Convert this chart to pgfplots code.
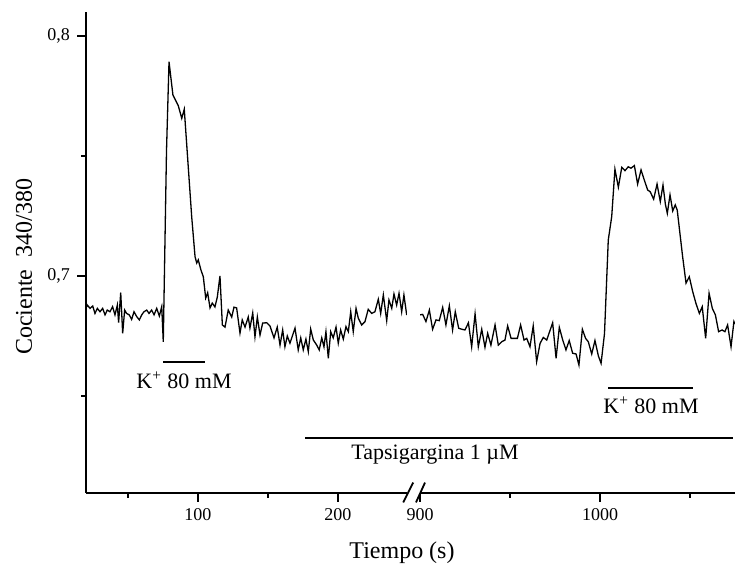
\documentclass[border=0pt]{standalone}
\usepackage{pgfplots}
\pgfplotsset{compat=1.18}
\usepackage{fontspec}
\setmainfont{Liberation Serif}
\pgfplotstableread{
t v
20.0 0.6865
20.9 0.6879
22.9 0.6865
24.8 0.6875
26.4 0.6844
28.1 0.6865
30.0 0.6851
31.9 0.6865
33.6 0.6838
35.2 0.6858
37.1 0.6851
39.0 0.6872
40.7 0.6838
42.4 0.6879
43.3 0.6806
44.8 0.6931
46.2 0.6761
47.6 0.6858
49.0 0.6844
50.9 0.6838
52.6 0.6819
54.3 0.6851
56.2 0.6831
58.1 0.6817
59.8 0.6838
61.4 0.6851
63.4 0.6858
65.0 0.6844
66.9 0.6858
68.6 0.6838
70.5 0.6865
72.4 0.6833
74.1 0.6872
75.2 0.6726
77.5 0.7520
79.3 0.7893
82.1 0.7754
85.9 0.7710
88.4 0.7657
90.2 0.7695
95.5 0.7247
97.9 0.7080
99.1 0.7054
100.2 0.7067
102.1 0.7025
103.8 0.6997
105.5 0.6908
106.9 0.6930
108.6 0.6867
110.2 0.6887
112.1 0.6871
113.8 0.6912
115.7 0.7000
117.4 0.6796
119.3 0.6787
121.6 0.6858
124.1 0.6829
125.7 0.6870
127.6 0.6867
130.0 0.6762
131.6 0.6817
133.6 0.6787
135.9 0.6829
137.1 0.6783
139.1 0.6846
140.7 0.6746
142.4 0.6829
144.3 0.6754
146.2 0.6804
149.1 0.6805
151.4 0.6792
154.3 0.6742
156.6 0.6787
158.6 0.6712
160.5 0.6775
162.1 0.6705
163.8 0.6750
165.7 0.6720
169.3 0.6783
171.6 0.6692
173.4 0.6742
175.2 0.6692
177.1 0.6737
178.8 0.6685
180.5 0.6779
182.4 0.6733
184.8 0.6712
186.6 0.6692
188.4 0.6742
190.0 0.6705
191.4 0.6768
193.1 0.6657
194.8 0.6768
196.6 0.6742
198.6 0.6787
200.2 0.6720
201.9 0.6775
203.8 0.6737
205.7 0.6789
207.4 0.6768
209.1 0.6851
210.9 0.6768
212.9 0.6865
214.5 0.6824
216.9 0.6796
219.3 0.6810
221.6 0.6861
224.1 0.6844
226.4 0.6851
228.8 0.6903
230.5 0.6844
232.4 0.6921
234.8 0.6814
236.4 0.6900
238.4 0.6865
240.0 0.6925
241.9 0.6879
243.6 0.6928
245.5 0.6851
247.1 0.6921
249.1 0.6837
}\lefttrace
\pgfplotstableread{
t v
900.0 0.6838
901.5 0.6840
903.3 0.6810
905.2 0.6858
907.0 0.6778
908.9 0.6817
910.7 0.6814
912.6 0.6869
914.4 0.6796
916.3 0.6876
918.1 0.6775
919.6 0.6851
921.5 0.6782
923.3 0.6778
925.0 0.6775
926.9 0.6805
928.7 0.6705
930.6 0.6842
932.4 0.6705
934.3 0.6778
936.1 0.6703
937.6 0.6761
939.4 0.6712
941.7 0.6796
943.5 0.6712
945.4 0.6726
947.2 0.6733
948.7 0.6792
950.6 0.6740
952.4 0.6740
954.1 0.6740
955.9 0.6796
957.8 0.6733
959.3 0.6740
961.1 0.6705
962.9 0.6792
964.8 0.6643
966.7 0.6719
968.5 0.6744
970.4 0.6733
973.7 0.6805
975.6 0.6657
977.4 0.6786
979.3 0.6733
981.1 0.6692
982.9 0.6731
984.8 0.6678
986.7 0.6675
988.3 0.6629
990.2 0.6778
992.0 0.6740
993.5 0.6726
995.4 0.6675
997.2 0.6731
999.1 0.6667
1000.6 0.6636
1002.5 0.6760
1004.6 0.7150
1006.5 0.7247
1008.3 0.7445
1010.2 0.7370
1012.1 0.7453
1013.9 0.7439
1015.7 0.7455
1017.2 0.7449
1019.1 0.7460
1020.9 0.7383
1022.8 0.7442
1024.6 0.7400
1026.5 0.7358
1027.9 0.7351
1029.8 0.7320
1031.7 0.7383
1033.5 0.7310
1035.0 0.7379
1036.3 0.7300
1037.4 0.7261
1038.9 0.7338
1040.4 0.7271
1041.8 0.7296
1042.9 0.7275
1044.4 0.7178
1045.9 0.7081
1047.8 0.6970
1049.6 0.6997
1051.5 0.6935
1053.3 0.6886
1055.2 0.6844
1056.8 0.6872
1058.7 0.6740
1060.6 0.6928
1062.4 0.6865
1064.1 0.6838
1065.9 0.6768
1067.8 0.6775
1069.4 0.6768
1070.9 0.6796
1072.8 0.6705
1074.4 0.6810
1075.0 0.6800
}\righttrace
\begin{document}
\begin{tikzpicture}
\useasboundingbox (0pt,0pt) rectangle (367.5pt,283.5pt);
\pgfplotsset{mystyle/.style={
  scale only axis, height=240.35pt,
  ymin=0.6097, ymax=0.81,
  axis x line*=bottom,
  x axis line style={-, line width=1pt},
  tick align=outside,
  major tick length=4.5pt, minor tick length=2.5pt,
  tick style={black, line width=0.8pt},
  tick label style={font=\fontsize{9}{10}\selectfont},
}}
\begin{axis}[mystyle,
  at={(43pt,37.15pt)}, anchor=south west,
  width=160.5pt, xmin=20, xmax=249.3,
  axis y line*=left,
  y axis line style={-, line width=1pt},
  ytick={0.7,0.8}, yticklabels={{0,7},{0,8}},
  minor ytick={0.65,0.75},
  xtick={100,200}, xticklabels={100,200},
  minor xtick={50,150},
]
\addplot[black, line width=0.65pt, mark=none] table[x=t,y=v] {\lefttrace};
\end{axis}
\begin{axis}[mystyle,
  at={(210pt,37.15pt)}, anchor=south west,
  width=157.5pt, xmin=900, xmax=1075,
  axis y line=none,
  ytick=\empty,
  xtick={900,1000}, xticklabels={900,1000},
  minor xtick={950,1050},
]
\addplot[black, line width=0.65pt, mark=none] table[x=t,y=v] {\righttrace};
\end{axis}
% axis break marks
\draw[line width=0.9pt] (201.6pt,32.3pt) -- (206.6pt,42.2pt);
\draw[line width=0.9pt] (208.0pt,32.3pt) -- (212.5pt,42.2pt);
% annotations
\draw[line width=0.6pt] (81.5pt,102.5pt) -- (102.5pt,102.5pt);
\node[font=\fontsize{11}{12}\selectfont] at (92pt,93.5pt) {K\textsuperscript{+} 80 mM};
\draw[line width=0.6pt] (304pt,89.5pt) -- (346.5pt,89.5pt);
\node[font=\fontsize{11}{12}\selectfont] at (325.5pt,81pt) {K\textsuperscript{+} 80 mM};
\draw[line width=0.6pt] (152.5pt,64.5pt) -- (366.5pt,64.5pt);
\node[font=\fontsize{11}{12}\selectfont] at (217.5pt,56pt) {Tapsigargina 1 µM};
% axis titles
\node[font=\fontsize{12}{14}\selectfont] at (201pt,7pt) {Tiempo (s)};
\node[font=\fontsize{12}{14}\selectfont, rotate=90] at (12pt,150pt) {Cociente\ \ 340/380};
\end{tikzpicture}
\end{document}
